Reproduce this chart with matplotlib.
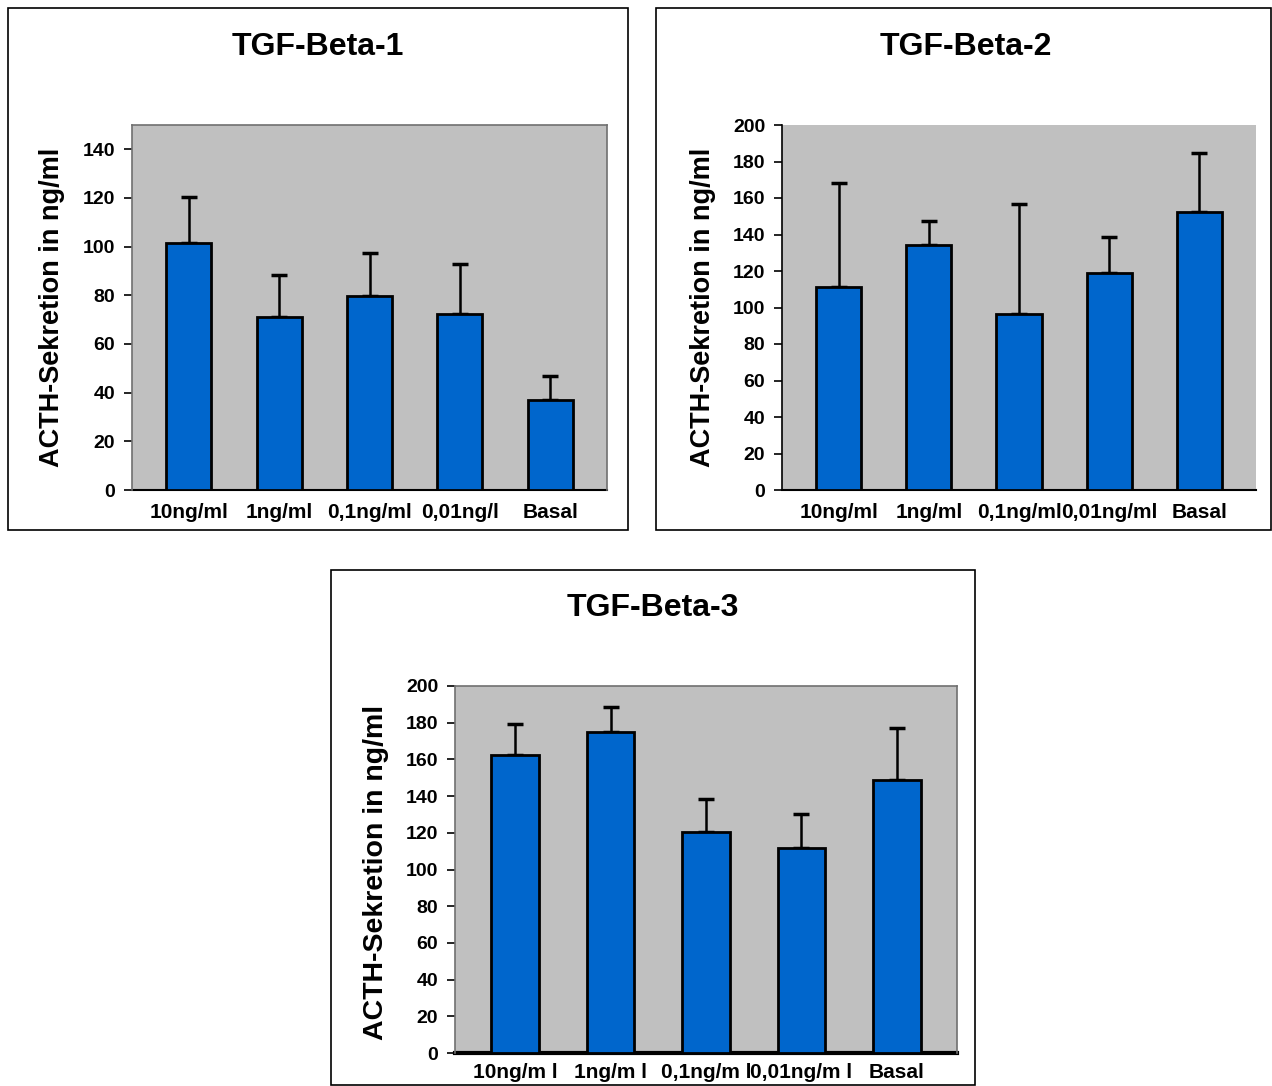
import matplotlib
matplotlib.use("Agg")
import matplotlib.pyplot as plt
from matplotlib.patches import Rectangle

plt.rcParams["font.family"] = ["Liberation Sans", "DejaVu Sans"]
plt.rcParams["font.weight"] = "bold"

labels_1 = ["10ng/ml", "1ng/ml", "0,1ng/ml", "0,01ng/l", "Basal"]
labels_2 = ["10ng/ml", "1ng/ml", "0,1ng/ml", "0,01ng/ml", "Basal"]
labels_3 = ["10ng/m l", "1ng/m l", "0,1ng/m l", "0,01ng/m l", "Basal"]

means_1 = [101.4, 71.3, 79.6, 72.4, 36.9]
upper_1 = [120.3, 88.4, 97.6, 92.8, 47.0]
means_2 = [111.5, 134.3, 96.4, 119.0, 152.2]
upper_2 = [168.2, 147.6, 156.9, 138.8, 184.7]
means_3 = [162.2, 175.0, 120.5, 111.9, 148.8]
upper_3 = [179.3, 188.3, 138.2, 130.3, 177.3]

titles = ["TGF-Beta-1", "TGF-Beta-2", "TGF-Beta-3"]
ylabel = "ACTH-Sekretion in ng/ml"

W, H = 1272, 1086
fig = plt.figure(figsize=(W / 100, H / 100), dpi=100)


def fx(px):
    return px / W


def fy(py):
    return 1 - py / H


def panel(box, axbox, title, title_xy, ylab_xy, labels, means, upper, ymax, ticks,
          frame_gray, thick_base, xpad, ylab_size):
    x0, y0, x1, y1 = box
    fig.add_artist(Rectangle((fx(x0), fy(y1)), fx(x1) - fx(x0), fy(y0) - fy(y1),
                             transform=fig.transFigure, fill=False,
                             edgecolor="black", linewidth=1.2))
    l, t, r, b = axbox
    ax = fig.add_axes([fx(l), fy(b), fx(r) - fx(l), fy(t) - fy(b)])
    ax.set_facecolor("#C0C0C0")
    xs = list(range(len(means)))
    err = [u - m for u, m in zip(upper, means)]
    ax.errorbar(xs, means, yerr=[[0] * len(err), err], fmt="none", ecolor="black",
                elinewidth=1.8, capsize=6, capthick=2.5, zorder=2)
    ax.bar(xs, means, width=0.5, color="#0066CC", edgecolor="black",
           linewidth=2, zorder=3)
    ax.set_xlim(-0.63, len(means) - 1 + 0.63)
    ax.set_ylim(0, ymax)
    ax.set_yticks(ticks)
    ax.set_xticks(xs)
    ax.set_xticklabels(labels, fontsize=15, fontweight="bold")
    ax.tick_params(axis="x", length=0, pad=xpad)
    ax.tick_params(axis="y", direction="out", length=6, width=1.2, pad=6,
                   labelsize=14)
    for lab in ax.get_yticklabels():
        lab.set_fontweight("bold")
    if frame_gray:
        for s in ["top", "right", "left"]:
            ax.spines[s].set_color("#707070")
            ax.spines[s].set_linewidth(1.2)
    else:
        ax.spines["top"].set_visible(False)
        ax.spines["right"].set_visible(False)
        ax.spines["left"].set_color("black")
        ax.spines["left"].set_linewidth(1.2)
    ax.spines["bottom"].set_color("black")
    ax.spines["bottom"].set_linewidth(3 if thick_base else 1.5)
    ax.spines["bottom"].set_zorder(1)
    fig.text(fx(title_xy[0]), fy(title_xy[1]), title, ha="center", va="center",
             fontsize=23, fontweight="bold")
    fig.text(fx(ylab_xy[0]), fy(ylab_xy[1]), ylabel, ha="center", va="center",
             rotation=90, fontsize=ylab_size, fontweight="bold")
    return ax


panel((8, 8, 628, 530), (132, 125, 607, 490), titles[0], (318, 47), (52, 307),
      labels_1, means_1, upper_1, 150, range(0, 141, 20), True, False, 9, 19.5)
panel((656, 8, 1271, 530), (782, 125, 1256, 490), titles[1], (966, 47), (703, 307),
      labels_2, means_2, upper_2, 200, range(0, 201, 20), False, False, 9, 19.5)
panel((331, 570, 975, 1085), (455, 686, 957, 1053), titles[2], (653, 608), (376, 872),
      labels_3, means_3, upper_3, 200, range(0, 201, 20), True, True, 7, 20.5)

fig.savefig("out.png", dpi=100, facecolor="white")
